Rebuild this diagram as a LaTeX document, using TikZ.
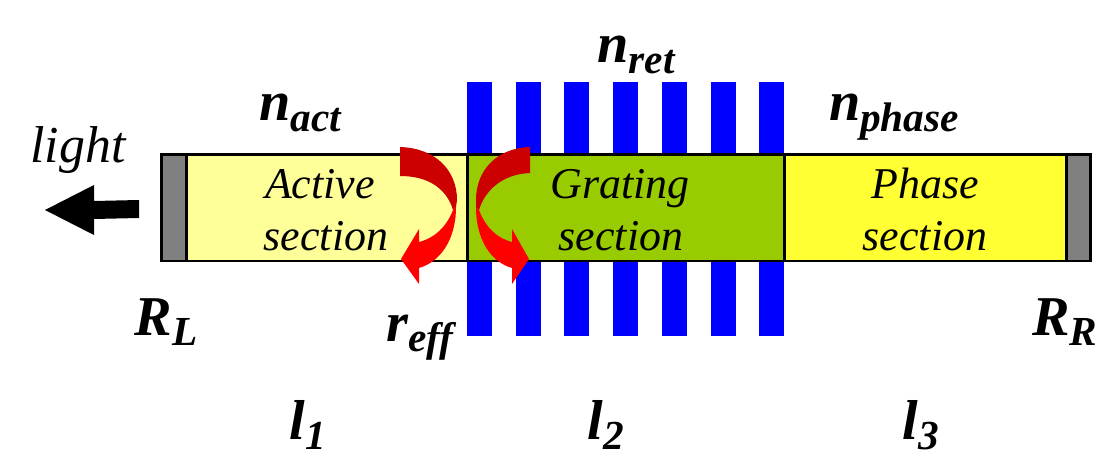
\documentclass[tikz,border=0pt]{standalone}
\usepackage{fontspec}
\setmainfont{Liberation Serif}
\usepackage{xcolor}
\usepackage{tikz}
\definecolor{activeyellow}{HTML}{FFFF99}
\definecolor{gratinggreen}{HTML}{99CC00}
\definecolor{phaseyellow}{HTML}{FFFF33}
\definecolor{mirrorgray}{HTML}{808080}
\definecolor{barblue}{HTML}{0000FF}
\definecolor{darkred}{HTML}{CC0000}
\newcommand{\symb}[2]{{\fontsize{32}{32}\selectfont\bfseries\itshape #1\raisebox{-2.1mm}{\fontsize{23.5}{23.5}\selectfont #2}}}
\tikzset{
  section/.style={draw=black, line width=0.6mm},
  seclabel/.style={anchor=base, inner sep=0pt, font=\fontsize{25}{25}\selectfont\itshape},
  symlabel/.style={anchor=base, inner sep=0pt},
}
\begin{document}
\begin{tikzpicture}[x=0.02cm, y=-0.02cm]
\useasboundingbox (0,0) rectangle (1102,459);
% grating bars behind the waveguide
\foreach \X in {467,516,564,613,662,711,759}
  \fill[barblue] (\X,82) rectangle (\X+25,336);
% waveguide sections
\filldraw[section, fill=activeyellow] (186,155) rectangle (467,261);
\filldraw[section, fill=gratinggreen] (467,155) rectangle (784,261);
\filldraw[section, fill=phaseyellow] (784,155) rectangle (1066,261);
\filldraw[section, fill=mirrorgray] (161,155) rectangle (186,261);
\filldraw[section, fill=mirrorgray] (1066,155) rectangle (1090,261);
% output arrow
\fill[black] (45,210) -- (94,185) -- (94,201) -- (139,200) -- (139,218) -- (94,219) -- (94,235) -- cycle;
% reflection arrows
\fill[red] (456,207) .. controls (456,240) and (440,262) .. (419,268) -- (419,284) -- (401,259) -- (419,229) -- (419,242)
  .. controls (435,238) and (447,226) .. (453,210) -- cycle;
\fill[darkred] (400,147) .. controls (435,148) and (457,170) .. (457,200) -- (456,207) -- (453,210)
  .. controls (447,190) and (430,176) .. (400,176) -- cycle;
\fill[red] (476,207) .. controls (476,240) and (491,262) .. (512,268) -- (512,284) -- (529,259) -- (512,229) -- (512,242)
  .. controls (496,238) and (485,226) .. (479,210) -- cycle;
\fill[darkred] (530,147) .. controls (497,148) and (476,170) .. (476,200) -- (476,207) -- (479,210)
  .. controls (485,190) and (503,174) .. (530,173) -- cycle;
% labels
\node[seclabel] (active1) at (320,199) {Active};
\node[seclabel] (active2) at (326,251) {section};
\node[seclabel] (grating1) at (620,199) {Grating};
\node[seclabel] (grating2) at (621,251) {section};
\node[seclabel] (phase1) at (925,199) {Phase};
\node[seclabel] (phase2) at (925,251) {section};
\node[seclabel, font=\fontsize{29.5}{29.5}\selectfont\itshape] (light) at (78,163) {light};
\node[symlabel] (nact) at (300,121) {\symb{n}{act}};
\node[symlabel] (nret) at (636,63) {\symb{n}{ret}};
\node[symlabel] (nphase) at (894,121) {\symb{n}{phase}};
\node[symlabel] (reff) at (420,341) {\symb{r}{eff}};
\node[symlabel] (RL) at (166,335) {\symb{R}{L}};
\node[symlabel] (RR) at (1065,335) {\symb{R}{R}};
\node[symlabel] (l1) at (308,439) {\symb{l}{1}};
\node[symlabel] (l2) at (606,439) {\symb{l}{2}};
\node[symlabel] (l3) at (921,439) {\symb{l}{3}};
\end{tikzpicture}
\end{document}
